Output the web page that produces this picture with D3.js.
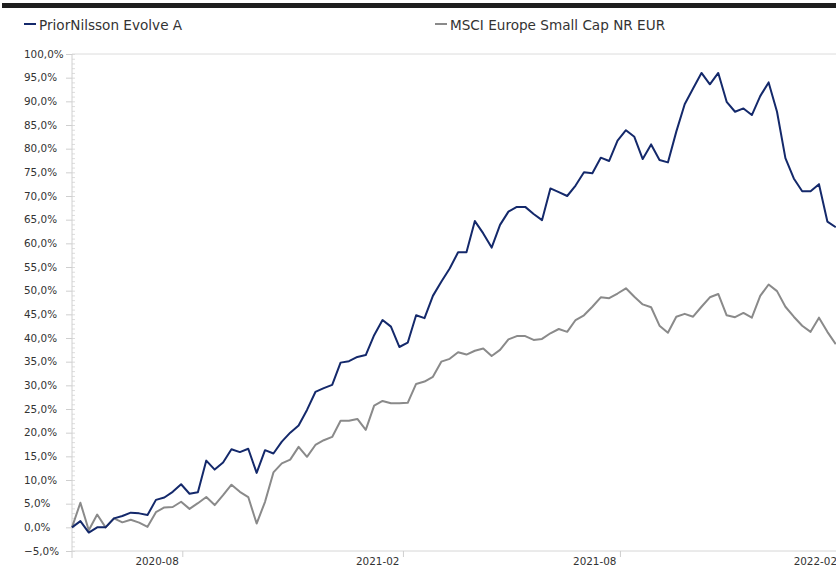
<!DOCTYPE html>
<html>
<head>
<meta charset="utf-8">
<script src="https://cdn.jsdelivr.net/npm/d3@7"></script>
<style>
  body { margin: 0; background: #fff; }
  text { font-family: "DejaVu Sans", Verdana, sans-serif; fill: #333; }
</style>
</head>
<body>
<div id="viz"></div>
<script>
// weekly returns since start, in percent
const seriesNames = ["PriorNilsson Evolve A", "MSCI Europe Small Cap NR EUR"];
const seriesColors = ["#14296b", "#8a8a8a"];

const fundValues = [
  0.0, 1.3, -1.1, 0.0, 0.0, 1.9, 2.4, 3.1, 2.95, 2.6,
  5.8, 6.3, 7.5, 9.1, 7.1, 7.4, 14.1, 12.2, 13.7, 16.5,
  15.9, 16.6, 11.5, 16.3, 15.6, 18.1, 20.0, 21.5, 24.8, 28.6,
  29.4, 30.1, 34.8, 35.1, 36.0, 36.4, 40.6, 43.8, 42.4, 38.1,
  39.0, 44.8, 44.2, 48.9, 51.9, 54.7, 58.1, 58.1, 64.7, 62.1,
  59.1, 63.9, 66.7, 67.7, 67.7, 66.2, 64.9, 71.6, 70.8, 70.0,
  72.2, 75.0, 74.8, 78.1, 77.4, 81.7, 83.9, 82.5, 77.8, 80.9,
  77.6, 77.1, 83.6, 89.4, 92.7, 96.0, 93.6, 96.0, 89.9, 87.8,
  88.5, 87.1, 91.1, 94.0, 87.8, 78.0, 73.7, 71.0, 71.0, 72.5,
  64.6, 63.4
];

const indexValues = [
  0.0, 5.2, -0.6, 2.7, 0.0, 1.9, 1.05, 1.6, 1.0, 0.1,
  3.2, 4.2, 4.3, 5.4, 3.9, 5.1, 6.4, 4.7, 6.8, 9.0,
  7.5, 6.4, 0.8, 5.4, 11.6, 13.5, 14.3, 17.0, 14.9, 17.4,
  18.4, 19.1, 22.5, 22.5, 22.9, 20.6, 25.7, 26.7, 26.2, 26.2,
  26.3, 30.3, 30.8, 31.8, 35.0, 35.6, 37.0, 36.5, 37.3, 37.8,
  36.2, 37.5, 39.7, 40.4, 40.4, 39.6, 39.8, 41.0, 41.9, 41.3,
  43.8, 44.8, 46.6, 48.6, 48.4, 49.4, 50.5, 48.7, 47.1, 46.5,
  42.6, 41.1, 44.5, 45.1, 44.5, 46.6, 48.6, 49.3, 44.8, 44.4,
  45.3, 44.3, 48.9, 51.3, 49.9, 46.6, 44.5, 42.6, 41.3, 44.3,
  41.3, 38.7
];

const startDate = new Date(2020, 4, 1);
const endDate = new Date(2022, 1, 28);
const xTickLabels = ["2020-08", "2021-02", "2021-08", "2022-02"];
const yTicks = d3.range(-5, 101, 5);

const width = 836;
const height = 567;
const plotLeft = 72;
const plotTop = 54;
const plotBottom = 551;

const dates = fundValues.map((d, i) => d3.timeDay.offset(startDate, i * 7));

const svg = d3.select("#viz")
  .append("svg")
  .attr("width", width)
  .attr("height", height);

// dark strip along the top
svg.append("rect")
  .attr("x", 2).attr("y", 3)
  .attr("width", width - 2).attr("height", 5)
  .attr("fill", "#1e1e1e");

const x = d3.scaleTime()
  .domain([startDate, endDate])
  .range([plotLeft, plotLeft + d3.timeDay.count(startDate, endDate) * 1.199]);

const y = d3.scaleLinear().domain([-5, 100]).range([plotBottom, plotTop]);

const locale = d3.formatLocale({ decimal: ",", thousands: " ", grouping: [3], currency: ["", ""] });
const fmt = locale.format(".1f");

// top gridline
svg.append("line")
  .attr("x1", plotLeft).attr("x2", width)
  .attr("y1", y(100)).attr("y2", y(100))
  .attr("stroke", "#dcdcdc");

// minor ticks on y
const yMinor = svg.append("g")
  .attr("transform", `translate(${plotLeft},0)`)
  .call(d3.axisRight(y).tickValues(d3.range(-5, 100.5, 1)).tickSize(3).tickFormat(""));
yMinor.select(".domain").remove();
yMinor.selectAll("line").attr("stroke", "#dddddd");

// y axis
const yAxis = svg.append("g")
  .attr("transform", `translate(${plotLeft},0)`)
  .call(d3.axisLeft(y).tickValues(yTicks).tickSize(6).tickFormat(d => fmt(d) + "%"));
yAxis.select(".domain").attr("stroke", "#d0d0d0").attr("d", `M0,${plotTop}V${plotBottom + 7}`);
yAxis.selectAll(".tick line").attr("stroke", "#cfcfcf");
yAxis.selectAll(".tick text")
  .attr("x", 24 - plotLeft)
  .attr("text-anchor", "start")
  .style("font-size", "10.4px")
  .style("font-family", "'DejaVu Sans', Verdana, sans-serif")
  .attr("fill", "#333");

// x axis
const parseMonth = d3.timeParse("%Y-%m");
const xAxis = svg.append("g")
  .attr("transform", `translate(0,${plotBottom})`)
  .call(d3.axisBottom(x).tickValues(xTickLabels.map(parseMonth)).tickSize(6).tickFormat(d3.timeFormat("%Y-%m")));
xAxis.select(".domain").attr("stroke", "#d6d6d6").attr("d", `M${plotLeft},0H${width}`);
xAxis.selectAll(".tick line").attr("stroke", "#cfcfcf");
xAxis.selectAll(".tick text")
  .attr("x", -4)
  .attr("y", 7)
  .attr("text-anchor", "end")
  .style("font-size", "10.4px")
  .style("font-family", "'DejaVu Sans', Verdana, sans-serif")
  .attr("fill", "#333");

// lines
const line = d3.line()
  .x((d, i) => x(dates[i]))
  .y(d => y(d));

[indexValues, fundValues].forEach((vals, k) => {
  svg.append("path")
    .datum(vals)
    .attr("fill", "none")
    .attr("stroke", seriesColors[1 - k])
    .attr("stroke-width", 2)
    .attr("stroke-linejoin", "round")
    .attr("d", line);
});

// legend
const legendX = [24, 435];
seriesNames.forEach((name, i) => {
  const g = svg.append("g").attr("transform", `translate(${legendX[i]},24)`);
  g.append("line")
    .attr("x1", 0).attr("x2", 12)
    .attr("stroke", seriesColors[i])
    .attr("stroke-width", 2);
  g.append("text")
    .attr("x", 15).attr("y", 6)
    .style("font-size", "13.6px")
    .text(name);
});
</script>
</body>
</html>
